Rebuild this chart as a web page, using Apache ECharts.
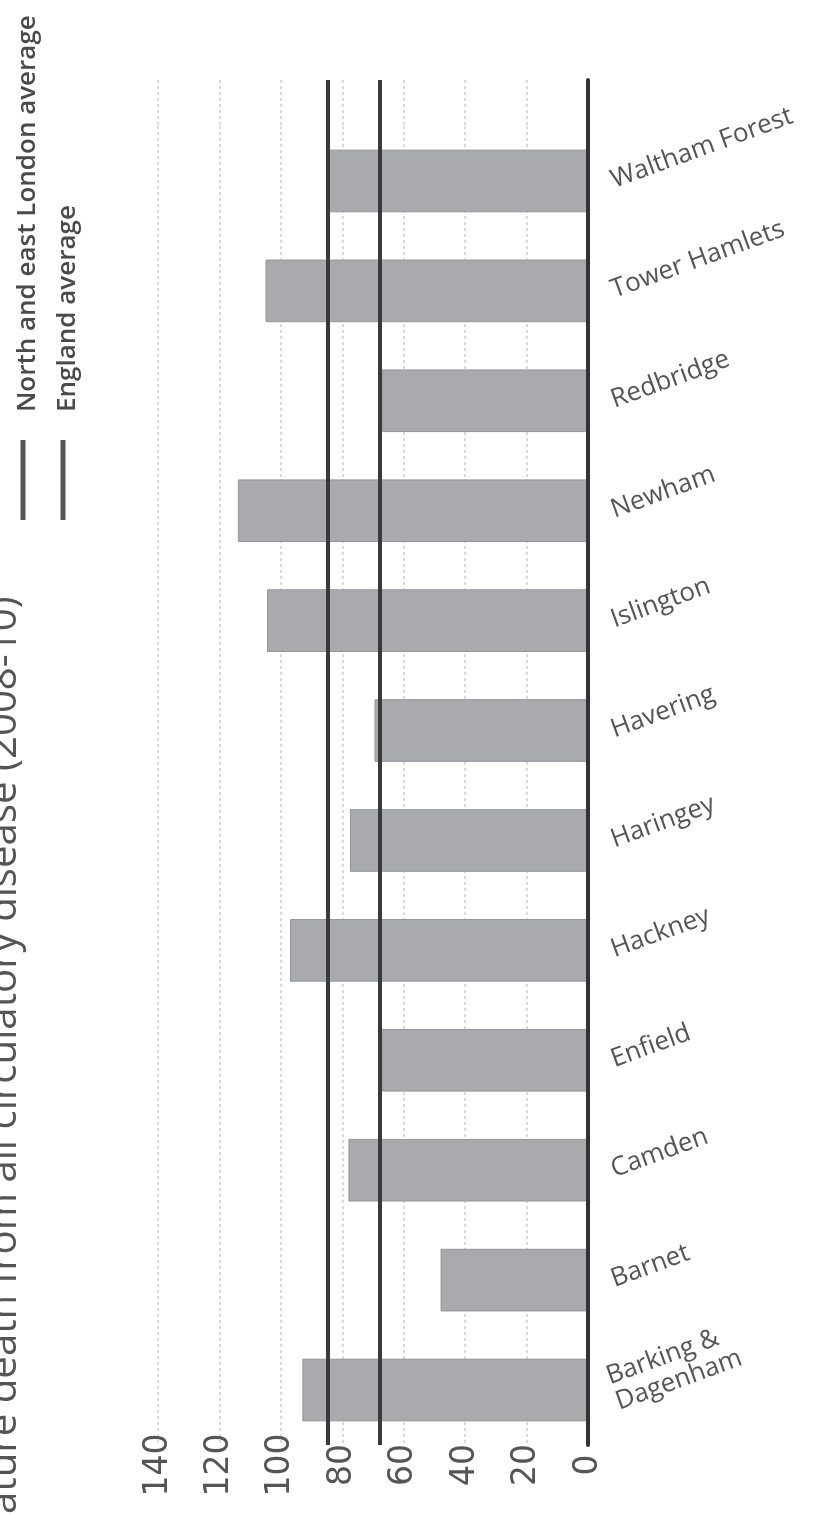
<!DOCTYPE html>
<html><head><meta charset="utf-8">
<script src="https://cdn.jsdelivr.net/npm/echarts@6/dist/echarts.min.js"></script>
<style>html,body{margin:0;padding:0;background:#fff}#c{width:823px;height:1514px}</style>
</head><body><div id="c"></div>
<script>
// ---- data ----
const categories = ['Barking &\nDagenham','Barnet','Camden','Enfield','Hackney','Haringey','Havering','Islington','Newham','Redbridge','Tower Hamlets','Waltham Forest'];
const rates = [93, 48, 78, 67, 97, 77.5, 69.5, 104.5, 114, 67, 105, 85];
const nelAverage = 84.6;
const englandAverage = 67.8;
const valueTicks = [0, 20, 40, 60, 80, 100, 120, 140];
const titleText = 'Premature death from all circulatory disease (2008-10)';
const titleHidden = 'Prem';
const legendNames = ['North and east London average', 'England average'];

// ---- layout helpers ----
const ctx = document.createElement('canvas').getContext('2d');
function tw(t, font){ ctx.font = font; return ctx.measureText(t).width; }
const titleFamily = '"Open Sans", "DejaVu Sans", sans-serif';
const visibleTitle = titleText.slice(titleHidden.length);
let titleSize = 32 * (1514 - 596) / tw(visibleTitle, '32px ' + titleFamily);
const titleFont = titleSize.toFixed(1) + 'px ' + titleFamily;
const titleStartY = 1514 + tw(titleHidden, titleFont);

const gridLeft = 158, gridRight = 235;
const tickStep = valueTicks[1] - valueTicks[0];

function valueAxis(gridIndex, showLabels){
  return {
    type: 'value', gridIndex: gridIndex, inverse: true,
    min: valueTicks[0], max: valueTicks[valueTicks.length - 1], interval: tickStep,
    axisLine: {show: false}, axisTick: {show: false},
    axisLabel: {show: showLabels, rotate: 90, margin: 20, fontSize: 33, color: '#555',
      align: 'center', verticalAlign: 'middle',
      fontFamily: '"DejaVu Sans", sans-serif'},
    splitLine: {show: true, lineStyle: {color: '#cfcfcf', width: 1.5, type: [3, 3]}}
  };
}
const avgMarkLine = {
  silent: true, symbol: ['none', 'none'], label: {show: false},
  lineStyle: {type: 'solid', color: '#3a3a3a', width: 4},
  emphasis: {disabled: true},
  data: [{xAxis: nelAverage}, {xAxis: englandAverage}]
};

const chart = echarts.init(document.getElementById('c'));
chart.setOption({
  animation: false,
  backgroundColor: '#fff',
  grid: [
    {left: gridLeft, right: gridRight, top: 126, bottom: 69, outerBoundsMode: 'none'},
    {left: gridLeft, right: gridRight, top: 80, height: 46, outerBoundsMode: 'none'}
  ],
  xAxis: [valueAxis(0, true), valueAxis(1, false)],
  yAxis: [
    {type: 'category', gridIndex: 0, data: categories, position: 'right', z: 5,
     axisLine: {show: true, onZero: false, lineStyle: {color: '#333', width: 4}},
     axisTick: {show: false}, splitLine: {show: false},
     axisLabel: {rotate: 20, margin: 24, fontSize: 26, lineHeight: 27, color: '#555',
       fontFamily: '"Open Sans", sans-serif', interval: 0}},
    {type: 'category', gridIndex: 1, data: [''], position: 'right', z: 5,
     axisLine: {show: true, onZero: false, lineStyle: {color: '#333', width: 4}},
     axisTick: {show: false}, axisLabel: {show: false}, splitLine: {show: false}}
  ],
  series: [
    {type: 'bar', xAxisIndex: 0, yAxisIndex: 0, data: rates, barCategoryGap: '43%', silent: true,
     itemStyle: {color: '#a9aaae', borderColor: '#94959a', borderWidth: 1},
     markLine: avgMarkLine},
    {type: 'bar', xAxisIndex: 1, yAxisIndex: 1, data: ['-'], silent: true,
     markLine: avgMarkLine}
  ],
  graphic: [
    {type: 'text', rotation: Math.PI / 2, x: 25, y: titleStartY, silent: true,
     style: {text: titleText, font: titleFont, fill: '#555', align: 'left', verticalAlign: 'bottom'}},
    {type: 'text', rotation: Math.PI / 2, x: 41, y: 412, silent: true,
     style: {text: legendNames[0], font: '600 26px "Open Sans", sans-serif', fill: '#4a4a4a', align: 'left', verticalAlign: 'bottom'}},
    {type: 'text', rotation: Math.PI / 2, x: 81, y: 412, silent: true,
     style: {text: legendNames[1], font: '600 26px "Open Sans", sans-serif', fill: '#4a4a4a', align: 'left', verticalAlign: 'bottom'}},
    {type: 'line', silent: true, shape: {x1: 23, y1: 440, x2: 23, y2: 520},
     style: {stroke: '#555', lineWidth: 5}},
    {type: 'line', silent: true, shape: {x1: 63, y1: 440, x2: 63, y2: 520},
     style: {stroke: '#555', lineWidth: 5}}
  ]
});
</script>
</body></html>
